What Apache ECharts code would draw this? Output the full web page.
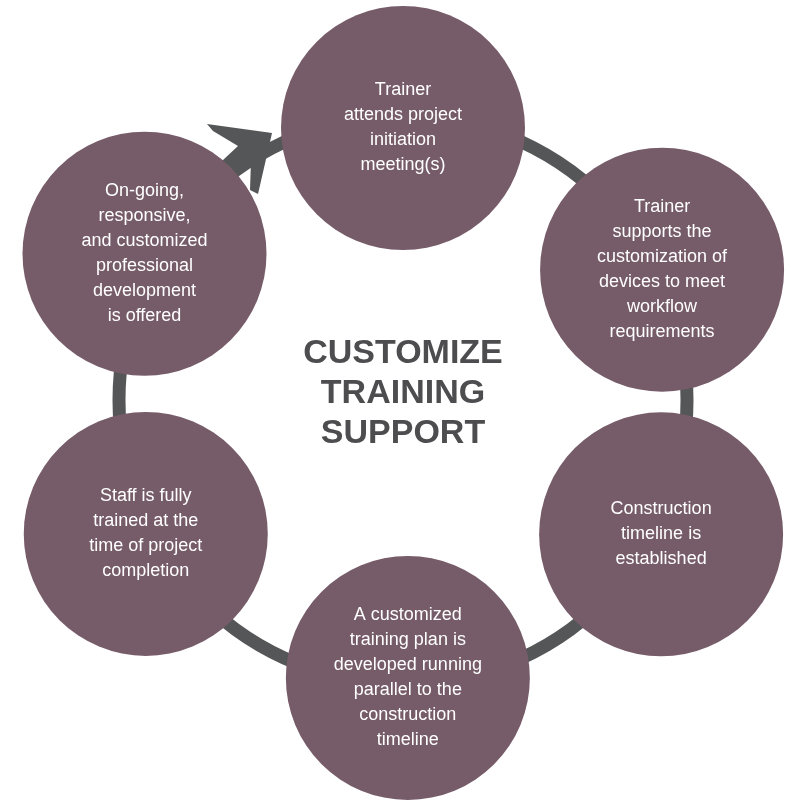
<!DOCTYPE html>
<html>
<head>
<meta charset="utf-8">
<script src="https://cdn.jsdelivr.net/npm/echarts@6/dist/echarts.min.js"></script>
<style>html,body{margin:0;background:#fff}#chart{width:800px;height:800px}</style>
</head>
<body>
<div id="chart"></div>
<script>
// steps around the cycle, angle in degrees (0 = right, counter-clockwise), distance from ring centre
const steps = [
  'Trainer\nattends project\ninitiation\nmeeting(s)',
  'Trainer\nsupports the\ncustomization of\ndevices to meet\nworkflow\nrequirements',
  'Construction\ntimeline is\nestablished',
  'A customized\ntraining plan is\ndeveloped running\nparallel to the\nconstruction\ntimeline',
  'Staff is fully\ntrained at the\ntime of project\ncompletion',
  'On-going,\nresponsive,\nand customized\nprofessional\ndevelopment\nis offered'
]
const angles = [90, 26.7, -27.5, -89, 207.5, 150.5]
const dists = [272, 290, 291, 278, 290, 297]
const title = 'CUSTOMIZE\nTRAINING\nSUPPORT'

const ringCenter = [403, 400]
const ringR = 284
const nodeR = 122

const chart = echarts.init(document.getElementById('chart'))

function pos(a, d) {
  const r = a * Math.PI / 180
  return [ringCenter[0] + d * Math.cos(r), ringCenter[1] + d * Math.sin(r)]
}

chart.setOption({
  animation: false,
  grid: { left: 0, right: 0, top: 0, bottom: 0 },
  xAxis: { type: 'value', min: 0, max: 800, show: false },
  yAxis: { type: 'value', min: 0, max: 800, show: false },
  series: [
    {
      // ring + arrow + title
      type: 'custom',
      data: [0],
      z: 1,
      renderItem(params, api) {
        const c = api.coord(ringCenter)
        const unit = api.size([1, 1])[0]
        return {
          type: 'group',
          children: [
            { type: 'circle', shape: { cx: c[0], cy: c[1], r: ringR * unit },
              style: { fill: 'none', stroke: '#555657', lineWidth: 13 } },
            { type: 'polygon', shape: { points: [
                [272, 133], [258, 194], [250, 190], [251, 160], [222, 188], [208, 174], [238, 146], [213, 131], [207, 124]
              ] }, style: { fill: '#555657' } },
            { type: 'text', style: { x: c[0], y: c[1] - 6, text: title, fill: '#4d4d4f',
                font: 'bold 34px "Liberation Sans", Arial, sans-serif', lineHeight: 40,
                align: 'center', verticalAlign: 'middle' } }
          ]
        }
      }
    },
    {
      type: 'custom',
      z: 2,
      data: steps.map((s, i) => pos(angles[i], dists[i])),
      renderItem(params, api) {
        const p = api.coord([api.value(0), api.value(1)])
        const r = api.size([nodeR, nodeR])[0]
        return {
          type: 'group',
          children: [
            { type: 'circle', shape: { cx: p[0], cy: p[1], r: r },
              style: { fill: '#765b69' } },
            { type: 'text', style: { x: p[0], y: p[1], text: steps[params.dataIndex], fill: '#ffffff',
                font: '18px "Liberation Sans", Arial, sans-serif', lineHeight: 25,
                align: 'center', verticalAlign: 'middle' } }
          ]
        }
      }
    }
  ]
})
</script>
</body>
</html>
